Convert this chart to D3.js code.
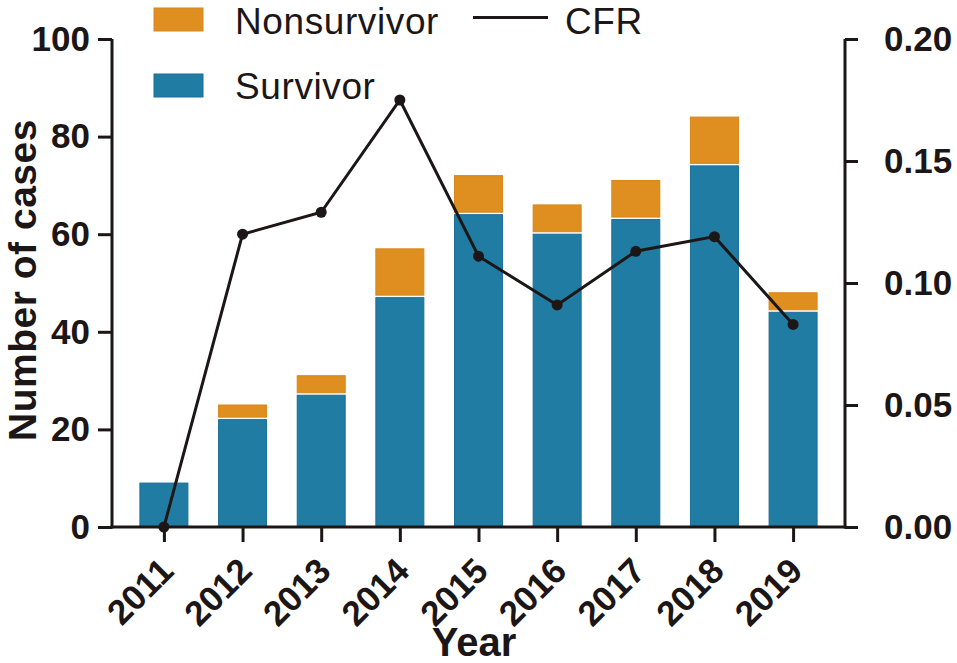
<!DOCTYPE html>
<html lang="en">
<head>
    <meta charset="UTF-8">
    <title>Cases and CFR by year</title>
    <script src="https://d3js.org/d3.v7.min.js"></script>
    <style>
        body { margin: 0; background: #fff; }
        svg text { font-family: "Liberation Sans", Arial, sans-serif; fill: #1c1616; }
        .tick-label { font-size: 35px; font-weight: bold; }
        .year-label { font-size: 35px; font-weight: bold; }
        .legend-label { font-size: 37px; letter-spacing: 0.6px; }
    </style>
</head>
<body>
    <div id="chart"></div>
    <script>
        // data
        const years = ["2011", "2012", "2013", "2014", "2015", "2016", "2017", "2018", "2019"];
        const survivor = [9, 22, 27, 47, 64, 60, 63, 74, 44];
        const nonsurvivor = [0, 3, 4, 10, 8, 6, 8, 10, 4];
        const cfr = [0, 0.12, 0.129, 0.175, 0.111, 0.091, 0.113, 0.119, 0.083];
        const leftTicks = [0, 20, 40, 60, 80, 100];
        const rightTicks = [0, 0.05, 0.10, 0.15, 0.20];

        const width = 957, height = 663;
        const plotL = 112, plotR = 845, plotT = 39, plotB = 527;
        const ink = "#1c1616";
        const blue = "#207ca3", orange = "#de8f1f";

        const svg = d3.select("#chart").append("svg")
            .attr("width", width)
            .attr("height", height);

        const x = d3.scalePoint().domain(years).range([plotL, plotR]).padding(0.66);
        const barW = 48;
        const y = d3.scaleLinear().domain([0, 100]).range([plotB, plotT]);
        const y2 = d3.scaleLinear().domain([0, 0.2]).range([plotB, plotT]);

        // stacked bars
        const rows = years.map((yr, i) => ({ year: yr, s: survivor[i], n: nonsurvivor[i] }));
        const bars = svg.append("g");
        bars.selectAll(".surv").data(rows).enter().append("rect")
            .attr("x", d => x(d.year) - barW / 2)
            .attr("y", d => y(d.s))
            .attr("width", barW)
            .attr("height", d => y(0) - y(d.s))
            .attr("fill", blue)
            .attr("stroke", "#1b6f98")
            .attr("stroke-width", 1);
        bars.selectAll(".non").data(rows.filter(d => d.n > 0)).enter().append("rect")
            .attr("x", d => x(d.year) - barW / 2)
            .attr("y", d => y(d.s + d.n))
            .attr("width", barW)
            .attr("height", d => y(d.s) - y(d.s + d.n) - 2.5)
            .attr("fill", orange)
            .attr("stroke", "#d9861a")
            .attr("stroke-width", 1);

        // left axis
        const yAxis = svg.append("g").attr("transform", `translate(${plotL},0)`)
            .call(d3.axisLeft(y).tickValues(leftTicks).tickSize(14).tickPadding(8).tickSizeOuter(0));
        yAxis.select(".domain").attr("stroke", ink).attr("stroke-width", 3).attr("d", `M0,${plotB + 1.5}V${plotT}`);
        yAxis.selectAll(".tick line").attr("stroke", ink).attr("stroke-width", 3);
        yAxis.selectAll(".tick text").attr("class", "tick-label").attr("fill", ink);

        // right axis
        const y2Axis = svg.append("g").attr("transform", `translate(${plotR},0)`)
            .call(d3.axisRight(y2).tickValues(rightTicks).tickSize(13).tickPadding(26).tickSizeOuter(0)
                .tickFormat(d3.format(".2f")));
        y2Axis.select(".domain").attr("stroke", ink).attr("stroke-width", 3).attr("d", `M0,${plotB + 1.5}V${plotT}`);
        y2Axis.selectAll(".tick line").attr("stroke", ink).attr("stroke-width", 3);
        y2Axis.selectAll(".tick text").attr("class", "tick-label").attr("fill", ink);

        // bottom axis
        const xAxis = svg.append("g").attr("transform", `translate(0,${plotB})`)
            .call(d3.axisBottom(x).tickSize(15).tickSizeOuter(0));
        xAxis.select(".domain").attr("stroke", ink).attr("stroke-width", 3).attr("d", `M${plotL - 1.5},0H${plotR + 1.5}`);
        xAxis.selectAll(".tick line").attr("stroke", ink).attr("stroke-width", 3);
        xAxis.selectAll(".tick text")
            .attr("class", "year-label")
            .attr("fill", ink)
            .attr("text-anchor", "end")
            .attr("dy", null)
            .attr("y", 0)
            .attr("transform", "translate(11,46) rotate(-45)");

        // CFR line
        const pts = years.map((yr, i) => ({ year: yr, v: cfr[i] }));
        const line = d3.line().x(d => x(d.year)).y(d => y2(d.v));
        svg.append("path")
            .datum(pts)
            .attr("fill", "none")
            .attr("stroke", ink)
            .attr("stroke-width", 3)
            .attr("d", line);
        svg.selectAll(".dot").data(pts).enter().append("circle")
            .attr("cx", d => x(d.year))
            .attr("cy", d => y2(d.v))
            .attr("r", 5.5)
            .attr("fill", ink);

        // axis titles
        svg.append("text")
            .attr("x", 474).attr("y", 656)
            .attr("text-anchor", "middle")
            .style("font-size", "40px").style("font-weight", "bold")
            .text("Year");
        svg.append("text")
            .attr("transform", `translate(35.5,${(plotT + plotB) / 2 - 3}) rotate(-90)`)
            .attr("text-anchor", "middle")
            .style("font-size", "39px").style("font-weight", "bold")
            .style("letter-spacing", "0.5px")
            .text("Number of cases");

        // legend
        const lg = svg.append("g");
        lg.append("rect").attr("x", 154).attr("y", 8).attr("width", 49).attr("height", 23)
            .attr("fill", orange).attr("stroke", "#d9861a");
        lg.append("rect").attr("x", 154).attr("y", 74).attr("width", 49).attr("height", 23)
            .attr("fill", blue).attr("stroke", "#1b6f98");
        lg.append("text").attr("class", "legend-label").attr("x", 235).attr("y", 34).text("Nonsurvivor");
        lg.append("text").attr("class", "legend-label").attr("x", 235).attr("y", 99).text("Survivor");
        lg.append("line").attr("x1", 473).attr("x2", 548).attr("y1", 17.5).attr("y2", 17.5)
            .attr("stroke", ink).attr("stroke-width", 3);
        lg.append("text").attr("class", "legend-label").attr("x", 565).attr("y", 34).text("CFR");
    </script>
</body>
</html>
